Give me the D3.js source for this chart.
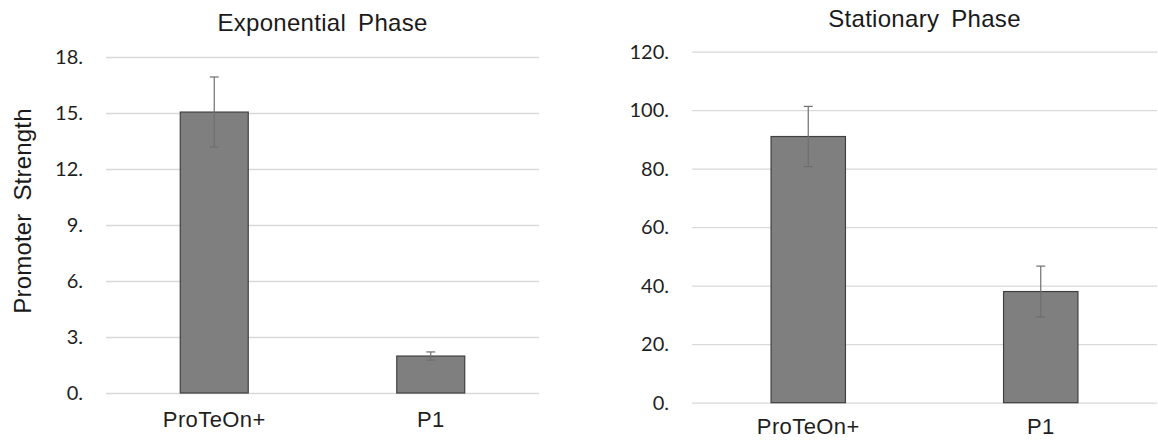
<!DOCTYPE html>
<html>
<head>
<meta charset="utf-8">
<script src="https://cdn.jsdelivr.net/npm/d3@7"></script>
<style>
  html, body { margin: 0; padding: 0; background: #ffffff; }
  svg { display: block; }
  .tick-label { font-family: Lato, "Open Sans", sans-serif; font-size: 20px; fill: #1f1f1f; }
  .cat-label { font-family: "Liberation Sans", Arial, sans-serif; font-size: 22px; fill: #1f1f1f; letter-spacing: 0.4px; }
  .title { font-family: "Liberation Sans", Arial, sans-serif; font-size: 24px; fill: #1a1a1a; word-spacing: 5px; letter-spacing: 0.3px; }
  .ylabel { font-family: "Liberation Sans", Arial, sans-serif; font-size: 24px; fill: #1a1a1a; word-spacing: 6px; letter-spacing: 0.2px; }
</style>
</head>
<body>
<svg id="chart" width="1158" height="440"></svg>
<script>
// Promoter strength by growth phase
const categories = ["ProTeOn+", "P1"];

const exponentialTitle = "Exponential Phase";
const exponentialValues = [15.05, 1.98];
const exponentialErrors = [1.88, 0.22];
const exponentialTicks = [0, 3, 6, 9, 12, 15, 18];

const stationaryTitle = "Stationary Phase";
const stationaryValues = [91.0, 38.0];
const stationaryErrors = [10.3, 8.7];
const stationaryTicks = [0, 20, 40, 60, 80, 100, 120];

const yAxisTitle = "Promoter Strength";

const svg = d3.select("#chart");

function drawPanel(cfg) {
  const g = svg.append("g");

  const x = d3.scaleBand()
    .domain(categories)
    .range([cfg.left, cfg.right])
    .paddingInner(cfg.pad)
    .paddingOuter(cfg.pad / 2);

  const y = d3.scaleLinear()
    .domain([0, d3.max(cfg.ticks)])
    .range([cfg.bottom, cfg.top]);

  // horizontal gridlines
  g.append("g")
    .attr("transform", `translate(${cfg.left},0)`)
    .call(d3.axisLeft(y).tickValues(cfg.ticks).tickSize(-(cfg.right - cfg.left)).tickFormat(""))
    .call(a => a.select(".domain").remove())
    .call(a => a.selectAll("line").attr("stroke", "#d9d9d9").attr("stroke-width", 1.3));

  // y tick labels
  g.append("g")
    .attr("transform", `translate(${cfg.left},0)`)
    .call(d3.axisLeft(y).tickValues(cfg.ticks).tickSize(0).tickPadding(23).tickFormat(d => d + "."))
    .call(a => a.select(".domain").remove())
    .call(a => a.selectAll("text").attr("class", "tick-label").attr("font-family", null).attr("font-size", null).attr("fill", null));

  // bars
  g.selectAll("rect.bar")
    .data(categories)
    .join("rect")
    .attr("class", "bar")
    .attr("x", d => x(d))
    .attr("width", x.bandwidth())
    .attr("y", (d, i) => y(cfg.values[i]))
    .attr("height", (d, i) => y(0) - y(cfg.values[i]))
    .attr("fill", "#7f7f7f")
    .attr("stroke", "#404040")
    .attr("stroke-width", 1.2);

  // error bars
  const eb = g.selectAll("g.err")
    .data(categories)
    .join("g")
    .attr("class", "err")
    .attr("stroke", "#6f6f6f")
    .attr("stroke-width", 1.2);
  const cx = d => x(d) + x.bandwidth() / 2;
  eb.append("line")
    .attr("x1", cx).attr("x2", cx)
    .attr("y1", (d, i) => y(cfg.values[i] + cfg.errors[i]))
    .attr("y2", (d, i) => y(cfg.values[i] - cfg.errors[i]));
  eb.append("line")
    .attr("x1", d => cx(d) - 4.5).attr("x2", d => cx(d) + 4.5)
    .attr("y1", (d, i) => y(cfg.values[i] + cfg.errors[i]))
    .attr("y2", (d, i) => y(cfg.values[i] + cfg.errors[i]));
  eb.append("line")
    .attr("x1", d => cx(d) - 4.5).attr("x2", d => cx(d) + 4.5)
    .attr("y1", (d, i) => y(cfg.values[i] - cfg.errors[i]))
    .attr("y2", (d, i) => y(cfg.values[i] - cfg.errors[i]));

  // category labels
  g.selectAll("text.cat-label")
    .data(categories)
    .join("text")
    .attr("class", "cat-label")
    .attr("x", d => cx(d))
    .attr("y", cfg.catY)
    .attr("text-anchor", "middle")
    .text(d => d);

  // panel title
  g.append("text")
    .attr("class", "title")
    .attr("x", (cfg.left + cfg.right) / 2)
    .attr("y", cfg.titleY)
    .attr("text-anchor", "middle")
    .text(cfg.title);
}

drawPanel({
  title: exponentialTitle, values: exponentialValues, errors: exponentialErrors, ticks: exponentialTicks,
  left: 106, right: 539, top: 57, bottom: 393, pad: 0.686, catY: 427, titleY: 31
});

drawPanel({
  title: stationaryTitle, values: stationaryValues, errors: stationaryErrors, ticks: stationaryTicks,
  left: 692, right: 1157, top: 51.7, bottom: 402.7, pad: 0.68, catY: 434, titleY: 27
});

// shared y-axis title on the left panel
svg.append("text")
  .attr("class", "ylabel")
  .attr("transform", "translate(31,211) rotate(-90)")
  .attr("text-anchor", "middle")
  .text(yAxisTitle);
</script>
</body>
</html>
